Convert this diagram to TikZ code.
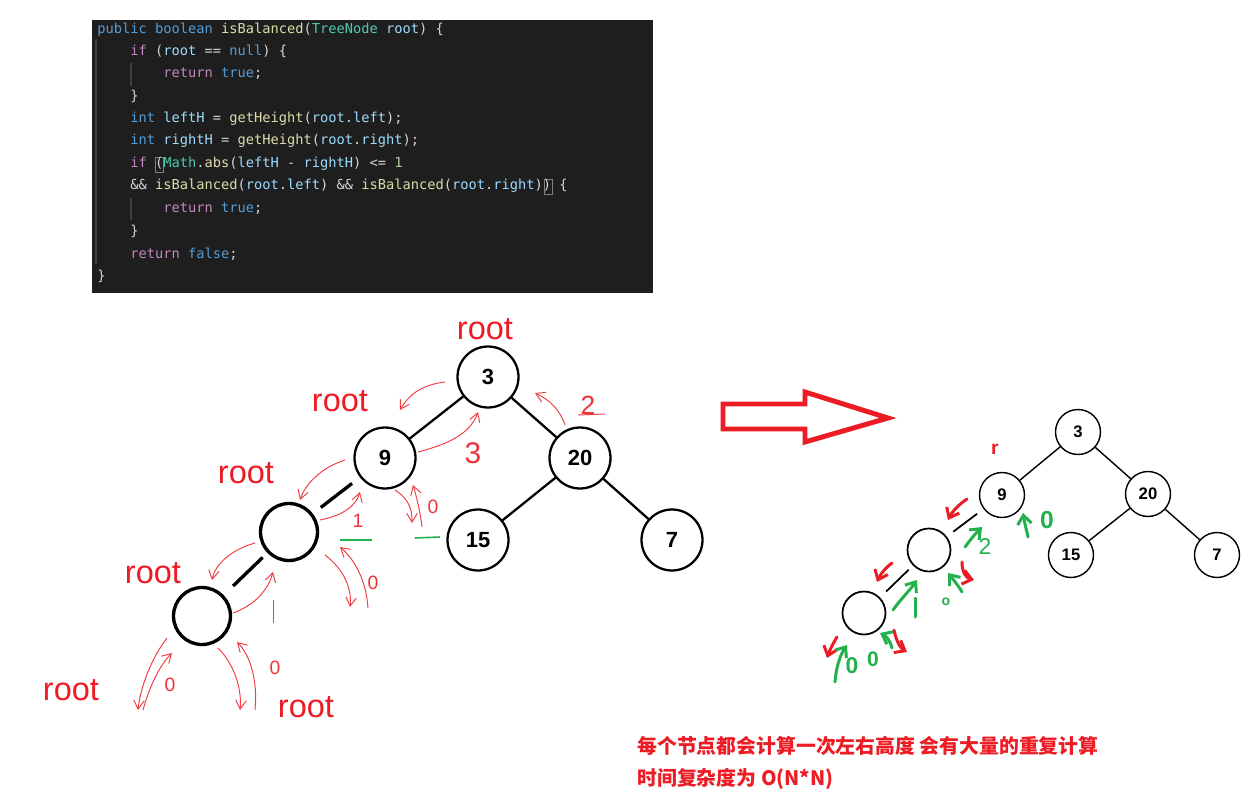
\documentclass[tikz,border=0pt]{standalone}
\usepackage{fontspec}
\setmainfont{Liberation Sans}
\newfontfamily\codefont{DejaVu Sans Mono}
\newfontfamily\cjk{Noto Sans CJK SC}
\usetikzlibrary{arrows.meta}
\definecolor{codebg}{HTML}{1E1E1E}
\definecolor{plain}{HTML}{D4D4D4}
\definecolor{kwblue}{HTML}{569CD6}
\definecolor{kwpink}{HTML}{C586C0}
\definecolor{fnyellow}{HTML}{DCDCAA}
\definecolor{typeteal}{HTML}{4EC9B0}
\definecolor{varblue}{HTML}{9CDCFE}
\definecolor{numgreen}{HTML}{B5CEA8}
\definecolor{guide}{HTML}{404040}
\definecolor{penred}{HTML}{ED1C24}
\definecolor{pengreen}{HTML}{22B14C}
\newcommand\kwb[1]{\textcolor{kwblue}{#1}}
\newcommand\kwp[1]{\textcolor{kwpink}{#1}}
\newcommand\fnc[1]{\textcolor{fnyellow}{#1}}
\newcommand\typ[1]{\textcolor{typeteal}{#1}}
\newcommand\vr[1]{\textcolor{varblue}{#1}}
\newcommand\nm[1]{\textcolor{numgreen}{#1}}

\begin{document}
\begin{tikzpicture}[x=0.02cm,y=-0.02cm,
  codeline/.style={anchor=west,inner sep=0pt,text=plain,font=\codefont\fontsize{7.8}{9}\selectfont},
  bignode/.style={circle,draw,line width=1.3pt,minimum size=1.22cm,inner sep=0pt,font=\bfseries\fontsize{12.5}{14}\selectfont},
  blanknode/.style={bignode,line width=1.9pt,minimum size=1.14cm},
  smallnode/.style={circle,draw,line width=0.8pt,minimum size=0.9cm,inner sep=0pt,font=\bfseries\fontsize{9.5}{11}\selectfont},
  smallblank/.style={smallnode,line width=1pt,minimum size=0.86cm},
  rootlabel/.style={text=penred,font=\fontsize{18.5}{20}\selectfont,inner sep=0pt},
  thinpen/.style={draw=penred!85,line width=0.55pt,-{Straight Barb[length=5pt,width=6pt]}},
  redpen/.style={draw=penred,line width=1.7pt,line cap=round,-{Straight Barb[length=5pt,width=8pt]}},
  greenpen/.style={draw=pengreen,line width=1.7pt,line cap=round,-{Straight Barb[length=5pt,width=8pt]}},
  handred/.style={text=penred!90,font=\fontsize{11}{12}\selectfont,inner sep=0pt},
  handgreen/.style={text=pengreen,font=\bfseries\fontsize{11}{12}\selectfont,inner sep=0pt}]
\useasboundingbox (0,0) rectangle (1255,805);
\fill[white] (0,0) rectangle (1255,805);

% code
\fill[codebg] (92,20) rectangle (653,293);
\draw[guide,line width=0.6pt] (96,39) -- (96,264);
\draw[guide,line width=0.6pt] (131,63) -- (131,86);
\draw[guide,line width=0.6pt] (131,198) -- (131,220);
\draw[gray,line width=0.5pt] (155,157) rectangle (163,172);
\draw[gray,line width=0.5pt] (544,179) rectangle (552,194);
\node[codeline] (l1) at (97,30) {\kwb{public} \kwb{boolean} \fnc{isBalanced}(\typ{TreeNode} \vr{root}) \{};
\node[codeline] (l2) at (130,51) {\kwp{if} (\vr{root} == \kwb{null}) \{};
\node[codeline] (l3) at (163,74) {\kwp{return} \kwb{true};};
\node[codeline] (l4) at (130,96) {\}};
\node[codeline] (l5) at (130,119) {\kwb{int} \vr{leftH} = \fnc{getHeight}(\vr{root}.\vr{left});};
\node[codeline] (l6) at (130,141) {\kwb{int} \vr{rightH} = \fnc{getHeight}(\vr{root}.\vr{right});};
\node[codeline] (l7) at (130,164) {\kwp{if} (\typ{Math}.\fnc{abs}(\vr{leftH} - \vr{rightH}) <= \nm{1}};
\node[codeline] (l8) at (130,186) {\&\& \fnc{isBalanced}(\vr{root}.\vr{left}) \&\& \fnc{isBalanced}(\vr{root}.\vr{right})) \{};
\node[codeline] (l9) at (163,209) {\kwp{return} \kwb{true};};
\node[codeline] (l10) at (130,231) {\}};
\node[codeline] (l11) at (130,254) {\kwp{return} \kwb{false};};
\node[codeline] (l12) at (97,276) {\}};

% left tree
\node[bignode] (a3) at (488,377) {3};
\node[bignode] (a9) at (385,458) {9};
\node[bignode] (a20) at (580,458) {20};
\node[bignode] (a15) at (478,540) {15};
\node[bignode] (a7) at (672,540) {7};
\node[blanknode] (aA) at (289,532) {};
\node[blanknode] (aB) at (202,616) {};
\draw[line width=1.3pt] (a3) -- (a9);
\draw[line width=1.3pt] (a3) -- (a20);
\draw[line width=1.3pt] (a20) -- (a15);
\draw[line width=1.3pt] (a20) -- (a7);
\draw[line width=1.9pt,shorten <=0.2cm,shorten >=0.2cm] (a9) -- (aA);
\draw[line width=1.9pt,shorten <=0.13cm,shorten >=0.26cm] (aA) -- (aB);

\node[rootlabel] (r1) at (485,329) {root};
\node[rootlabel] (r2) at (340,401) {root};
\node[rootlabel] (r3) at (246,473) {root};
\node[rootlabel] (r4) at (153,573) {root};
\node[rootlabel] (r5) at (71,690) {root};
\node[rootlabel] (r6) at (306,707) {root};

% hand strokes, left
\draw[thinpen] (445,382) .. controls (420,385) and (408,396) .. (400,410);
\draw[thinpen] (345,460) .. controls (320,468) and (305,485) .. (300,500);
\draw[thinpen] (320,520) .. controls (345,515) and (356,505) .. (360,492);
\draw[thinpen] (325,555) .. controls (345,570) and (352,590) .. (350,607);
\draw[thinpen] (368,608) .. controls (366,580) and (355,560) .. (340,547);
\draw[thinpen] (255,543) .. controls (230,550) and (215,565) .. (212,580);
\draw[thinpen] (233,613) .. controls (255,605) and (268,590) .. (273,572);
\draw[thinpen] (167,638) .. controls (150,660) and (140,690) .. (138,710);
\draw[thinpen] (143,710) .. controls (150,685) and (160,665) .. (172,653);
\draw[thinpen] (218,648) .. controls (235,665) and (242,690) .. (240,710);
\draw[thinpen] (255,710) .. controls (258,680) and (250,655) .. (237,642);
\draw[thinpen] (418,452) .. controls (445,445) and (470,435) .. (478,412);
\draw[thinpen] (395,490) .. controls (410,500) and (412,510) .. (412,523);
\draw[thinpen] (422,527) .. controls (420,510) and (416,495) .. (413,485);
\draw[thinpen] (565,425) .. controls (560,410) and (550,400) .. (535,393);
\draw[draw=penred!85,line width=0.55pt] (273,600) -- (273,623);
\node[handred] (h1) at (358,521) {1};
\node[handred] (h2) at (373,583) {0};
\node[handred] (h3) at (170,685) {0};
\node[handred] (h4) at (275,668) {0};
\node[handred] (h5) at (433,507) {0};
\node[handred,font=\fontsize{17}{18}\selectfont] (h6) at (473,453) {3};
\node[handred,font=\fontsize{15}{16}\selectfont] (h7) at (588,405) {2};
\draw[draw=penred!85,line width=0.55pt] (578,415) -- (605,414);
\draw[pengreen,line width=0.9pt] (340,540) -- (372,540);
\draw[pengreen,line width=0.9pt] (415,538) -- (440,537);

% big arrow
\draw[penred,line width=2.8pt,line join=miter] (723,404) -- (805,404) -- (805,392) -- (888,418) -- (805,442) -- (805,429) -- (723,429) -- cycle;

% right tree
\node[smallnode] (b3) at (1078,432) {3};
\node[smallnode] (b9) at (1002,495) {9};
\node[smallnode] (b20) at (1148,494) {20};
\node[smallnode] (b15) at (1071,555) {15};
\node[smallnode] (b7) at (1217,555) {7};
\node[smallblank] (bA) at (929,550) {};
\node[smallblank] (bB) at (864,613) {};
\draw[line width=0.8pt] (b3) -- (b9);
\draw[line width=0.8pt] (b3) -- (b20);
\draw[line width=0.8pt] (b20) -- (b15);
\draw[line width=0.8pt] (b20) -- (b7);
\draw[line width=1pt,shorten <=0.16cm,shorten >=0.16cm] (b9) -- (bA);
\draw[line width=1pt,shorten <=0.12cm,shorten >=0.17cm] (bA) -- (bB);
\node[text=penred,font=\bfseries\fontsize{11}{12}\selectfont,inner sep=0pt] (br) at (995,449) {r};

% hand strokes, right
\draw[redpen] (967,499) .. controls (958,505) and (952,512) .. (948,520);
\draw[redpen] (892,563) .. controls (885,568) and (880,575) .. (877,582);
\draw[redpen] (962,562) .. controls (962,572) and (966,578) .. (974,580);
\draw[redpen] (837,637) .. controls (832,645) and (829,652) .. (827,658);
\draw[redpen] (894,630) .. controls (896,640) and (900,648) .. (907,652);
\draw[greenpen] (965,547) .. controls (970,540) and (976,533) .. (982,527);
\draw[greenpen] (1028,537) .. controls (1026,528) and (1024,520) .. (1023,513);
\draw[greenpen] (962,592) .. controls (958,585) and (952,578) .. (948,573);
\draw[greenpen] (893,610) .. controls (900,600) and (910,590) .. (917,580);
\draw[greenpen] (835,682) .. controls (836,668) and (840,655) .. (847,645);
\draw[greenpen] (892,648) .. controls (890,640) and (886,636) .. (880,633);
\draw[pengreen,line width=1.7pt,line cap=round] (915,598) -- (915,617);
\node[handgreen,font=\fontsize{13}{14}\selectfont] (g1) at (985,547) {2};
\node[handgreen,font=\bfseries\fontsize{14}{15}\selectfont] (g2) at (1047,520) {0};
\node[handgreen,font=\bfseries\fontsize{8}{9}\selectfont] (g3) at (946,602) {o};
\node[handgreen,font=\bfseries\fontsize{13}{14}\selectfont] (g4) at (852,666) {0};
\node[handgreen,font=\bfseries\fontsize{12}{13}\selectfont] (g5) at (873,659) {0};

% note
\node[anchor=west,inner sep=0pt,text=penred,font=\cjk\bfseries\fontsize{11.3}{13}\selectfont] (note1) at (637,746) {每个节点都会计算一次左右高度 会有大量的重复计算};
\node[anchor=west,inner sep=0pt,text=penred,font=\cjk\bfseries\fontsize{11.3}{13}\selectfont] (note2) at (637,779) {时间复杂度为 O(N*N)};
\end{tikzpicture}
\end{document}
